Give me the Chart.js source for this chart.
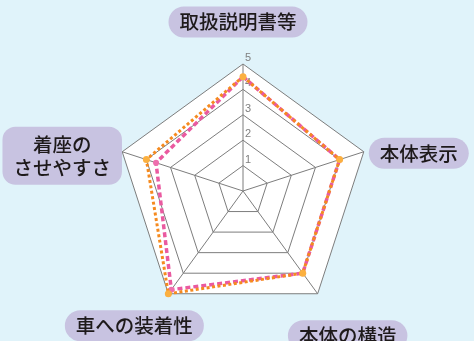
<!DOCTYPE html>
<html>
<head>
<meta charset="utf-8">
<script src="https://cdn.jsdelivr.net/npm/chart.js@4"></script>
<style>
  html, body { margin: 0; padding: 0; background: #e0f3fa; }
</style>
</head>
<body>
<canvas id="radar" width="474" height="341"></canvas>
<script>
// categories (axes), going clockwise from the top
const categories = ['取扱説明書等', '本体表示', '本体の構造', '車への装着性', ['着座の', 'させやすさ']];
const seriesOrange = [4.5, 4, 4, 5, 4];
const seriesPink = [4.5, 4, 4, 4.8, 3.6];
const tickValues = [1, 2, 3, 4, 5];

// label box centre, relative to the end of its axis
const labelOffsets = [[-5, -42], [55, 1.5], [30, 42], [-34, 32], [-60, 4]];

const decor = {
  id: 'decor',
  beforeDraw(chart) {
    const ctx = chart.ctx, r = chart.scales.r;
    ctx.save();
    ctx.fillStyle = '#e0f3fa';
    ctx.fillRect(0, 0, chart.width, chart.height);
    // white pentagon behind the grid
    ctx.beginPath();
    categories.forEach((c, i) => {
      const p = r.getPointPosition(i, r.drawingArea);
      if (i === 0) ctx.moveTo(p.x, p.y); else ctx.lineTo(p.x, p.y);
    });
    ctx.closePath();
    ctx.fillStyle = '#ffffff';
    ctx.fill();
    ctx.restore();
  },
  beforeDatasetsDraw(chart) {
    const ctx = chart.ctx, r = chart.scales.r;
    ctx.save();
    ctx.font = '11px "Liberation Sans", sans-serif';
    ctx.fillStyle = '#7f7f7f';
    ctx.textAlign = 'center';
    ctx.textBaseline = 'middle';
    tickValues.forEach(v => {
      const d = r.getDistanceFromCenterForValue(v);
      ctx.fillText(String(v), r.xCenter + 5, r.yCenter - d - 6);
    });
    ctx.restore();
  },
  afterDraw(chart) {
    const ctx = chart.ctx, r = chart.scales.r;
    ctx.save();
    ctx.font = '500 19.5px "Noto Sans CJK JP"';
    ctx.textAlign = 'center';
    ctx.textBaseline = 'middle';
    chart.data.labels.forEach((lab, i) => {
      const lines = Array.isArray(lab) ? lab : [lab];
      const p = r.getPointPosition(i, r.drawingArea);
      const cx = p.x + labelOffsets[i][0], cy = p.y + labelOffsets[i][1];
      const w = Math.max(...lines.map(t => ctx.measureText(t).width)) + 22;
      const h = lines.length > 1 ? 58 : 31;
      const rad = lines.length > 1 ? 13 : h / 2;
      ctx.fillStyle = '#c8c3e1';
      ctx.beginPath();
      ctx.roundRect(cx - w / 2, cy - h / 2, w, h, rad);
      ctx.fill();
      ctx.fillStyle = '#1e1a1b';
      lines.forEach((t, k) => {
        ctx.fillText(t, cx, cy + (k - (lines.length - 1) / 2) * 23);
      });
    });
    ctx.restore();
  }
};

new Chart(document.getElementById('radar'), {
  type: 'radar',
  data: {
    labels: categories,
    datasets: [
      {
        label: 'A',
        data: seriesOrange,
        borderColor: '#f58a1f',
        borderWidth: 3,
        borderDash: [3, 2.5],
        backgroundColor: 'transparent',
        fill: false,
        pointRadius: 3.5,
        pointBorderWidth: 0,
        pointBackgroundColor: '#fbb040'
      },
      {
        label: 'B',
        data: seriesPink,
        borderColor: '#ea5aa0',
        borderWidth: 3.5,
        borderDash: [5, 3],
        backgroundColor: 'transparent',
        fill: false,
        pointRadius: 3,
        pointBorderWidth: 0,
        pointBackgroundColor: '#ee6fae'
      }
    ]
  },
  options: {
    responsive: false,
    animation: false,
    layout: { padding: { left: 116, right: 104, top: 64, bottom: 23 } },
    plugins: { legend: { display: false }, tooltip: { enabled: false } },
    elements: { line: { tension: 0 } },
    scales: {
      r: {
        min: 0,
        max: 5,
        ticks: { display: false, stepSize: 1 },
        pointLabels: { display: false },
        grid: { color: '#7d7d7d', lineWidth: 1 },
        angleLines: { color: '#7d7d7d', lineWidth: 1 }
      }
    }
  },
  plugins: [decor]
});
</script>
</body>
</html>
